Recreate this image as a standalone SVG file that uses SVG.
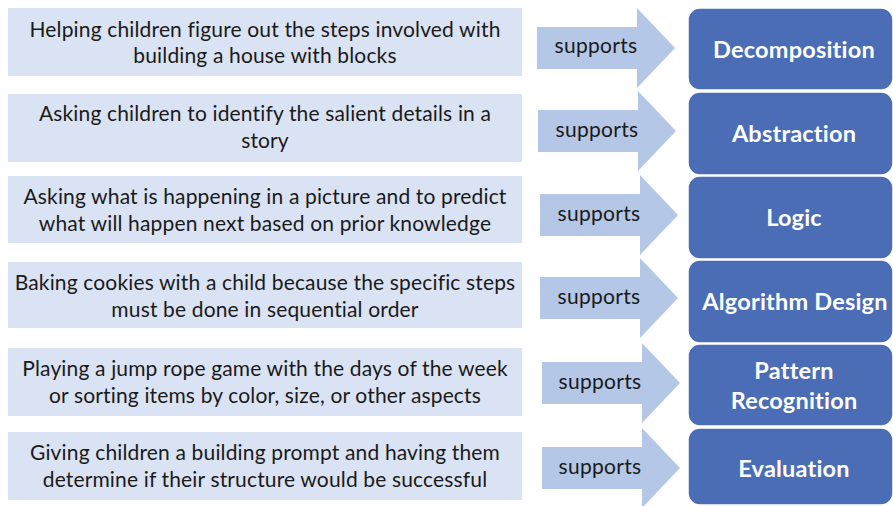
<svg xmlns="http://www.w3.org/2000/svg" width="893" height="506" viewBox="0 0 893 506">
<style>
.lbox{fill:#dae3f3}
.ltxt{font-family:Lato,"Open Sans","Liberation Sans",sans-serif;font-size:21px;letter-spacing:0.15px;fill:#1a1a1a;text-anchor:middle}
.arr{fill:#b4c7e7}
.atxt{font-family:Lato,"Open Sans","Liberation Sans",sans-serif;font-size:21px;letter-spacing:0.3px;fill:#1a1a1a;text-anchor:middle}
.rbox{fill:#4a6db6;stroke:#ffffff;stroke-width:1.5}
.rtxt{font-family:Lato,"Open Sans","Liberation Sans",sans-serif;font-size:23.5px;font-weight:bold;letter-spacing:0.2px;fill:#ffffff;text-anchor:middle}
</style>
<defs>
<path id="arrow" d="M0,-21 H100 V-40 L138,0 L100,40 V21 H0 Z"/>
</defs>
<rect width="893" height="506" fill="#ffffff"/>

<g id="act1"><rect class="lbox" x="8" y="8" width="514" height="68"/>
<text class="ltxt" x="265" y="37">Helping children figure out the steps involved with</text>
<text class="ltxt" x="265" y="63">building a house with blocks</text></g>
<g id="act2"><rect class="lbox" x="8" y="94" width="514" height="68"/>
<text class="ltxt" x="265" y="121">Asking children to identify the salient details in a</text>
<text class="ltxt" x="265" y="148">story</text></g>
<g id="act3"><rect class="lbox" x="8" y="176" width="514" height="67"/>
<text class="ltxt" x="265" y="204">Asking what is happening in a picture and to predict</text>
<text class="ltxt" x="265" y="231">what will happen next based on prior knowledge</text></g>
<g id="act4"><rect class="lbox" x="8" y="262" width="514" height="66"/>
<text class="ltxt" x="265" y="290">Baking cookies with a child because the specific steps</text>
<text class="ltxt" x="265" y="317">must be done in sequential order</text></g>
<g id="act5"><rect class="lbox" x="8" y="348" width="514" height="68"/>
<text class="ltxt" x="265" y="376">Playing a jump rope game with the days of the week</text>
<text class="ltxt" x="265" y="403">or sorting items by color, size, or other aspects</text></g>
<g id="act6"><rect class="lbox" x="8" y="432" width="514" height="68"/>
<text class="ltxt" x="265" y="460">Giving children a building prompt and having them</text>
<text class="ltxt" x="265" y="487">determine if their structure would be successful</text></g>

<g id="connectors">
<g><use href="#arrow" class="arr" x="537" y="48"/><text class="atxt" x="596" y="53">supports</text></g>
<g><use href="#arrow" class="arr" x="538" y="131"/><text class="atxt" x="597" y="137">supports</text></g>
<g><use href="#arrow" class="arr" x="540" y="215"/><text class="atxt" x="599" y="221">supports</text></g>
<g><use href="#arrow" class="arr" x="540" y="298"/><text class="atxt" x="599" y="304">supports</text></g>
<g><use href="#arrow" class="arr" x="542" y="383"/><text class="atxt" x="600" y="389">supports</text></g>
<g><use href="#arrow" class="arr" x="542" y="468"/><text class="atxt" x="600" y="474">supports</text></g>
</g>

<g id="decomposition"><rect class="rbox" x="688" y="8" width="205" height="82" rx="12"/>
<text class="rtxt" x="794" y="58">Decomposition</text></g>
<g id="abstraction"><rect class="rbox" x="688" y="92" width="205" height="83" rx="12"/>
<text class="rtxt" x="794" y="142">Abstraction</text></g>
<g id="logic"><rect class="rbox" x="688" y="176" width="205" height="83" rx="12"/>
<text class="rtxt" x="794" y="226">Logic</text></g>
<g id="algorithm"><rect class="rbox" x="688" y="260" width="205" height="83" rx="12"/>
<text class="rtxt" x="795" y="310">Algorithm Design</text></g>
<g id="pattern"><rect class="rbox" x="688" y="344" width="205" height="82" rx="12"/>
<text class="rtxt" x="794" y="379">Pattern</text>
<text class="rtxt" x="794" y="409">Recognition</text></g>
<g id="evaluation"><rect class="rbox" x="688" y="428" width="205" height="77" rx="12"/>
<text class="rtxt" x="794" y="477">Evaluation</text></g>
</svg>
